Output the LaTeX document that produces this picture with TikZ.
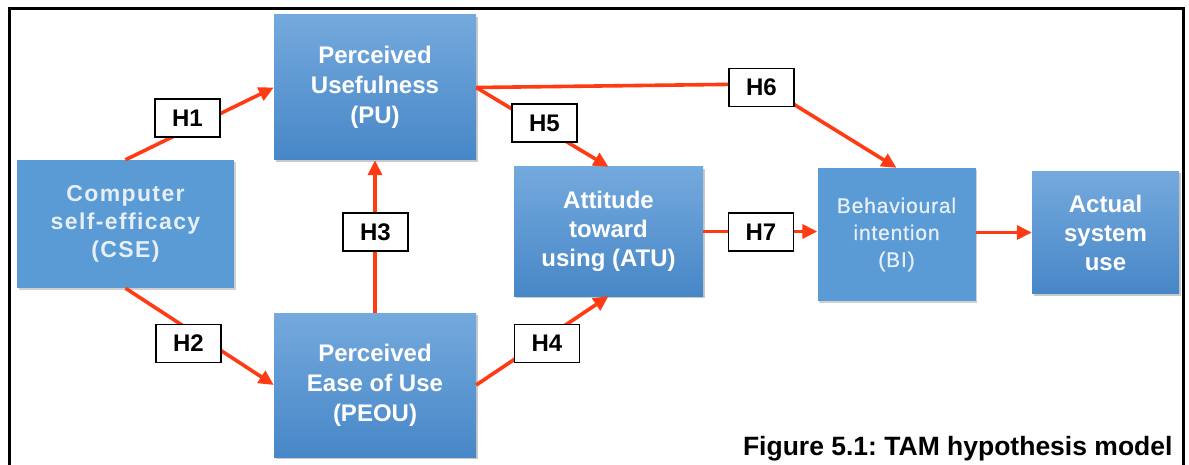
\documentclass[tikz,border=0pt]{standalone}
\usepackage{fontspec}
\setmainfont{Liberation Sans}
\newfontfamily\spacedbold[LetterSpace=6]{Liberation Sans}
\newfontfamily\spacedreg[LetterSpace=4,FakeBold=0.8]{Liberation Sans}
\usetikzlibrary{arrows.meta,shadows}
\definecolor{boxtop}{HTML}{74A9DD}
\definecolor{boxbot}{HTML}{4787C7}
\definecolor{boxflat}{HTML}{5B9BD5}
\definecolor{arrowred}{HTML}{FF3B14}
\definecolor{dimwhite}{HTML}{E6EEF8}
\frenchspacing
\tikzset{
  gbox/.style={rectangle, top color=boxtop, bottom color=boxbot, draw=none, text=white,
    font=\bfseries\fontsize{24}{30}\selectfont, align=center, inner sep=0pt,
    drop shadow={shadow xshift=1.5pt, shadow yshift=-2pt, opacity=0.35, fill=black!60}},
  fbox/.style={rectangle, fill=boxflat, draw=none, text=dimwhite, align=center, inner sep=0pt,
    drop shadow={shadow xshift=1.5pt, shadow yshift=-2pt, opacity=0.3, fill=black!60}},
  hyp/.style={rectangle, draw=black, line width=1.3pt, fill=white, text=black,
    font=\bfseries\fontsize{24}{28}\selectfont, minimum width=65pt, minimum height=38pt, inner sep=0pt},
  conn/.style={draw=arrowred, line width=3.6pt},
  arr/.style={conn, -{Triangle[length=15pt,width=14pt]}},
  frame/.style={draw=black, line width=3pt}
}
\begin{document}
\begin{tikzpicture}[x=1pt,y=-1pt]
\useasboundingbox (0,0) rectangle (1189,465);
\fill[white] (0,0) rectangle (1189,465);
\draw[frame] (9,475) -- (9,9) -- (1183,9) -- (1183,475);

% boxes
\node[gbox, minimum width=202pt, minimum height=145pt] (pu) at (375,87.5) {Perceived\\Usefulness\\(PU)};
\node[fbox, minimum width=217pt, minimum height=128pt, font=\spacedbold\bfseries\fontsize{23}{28}\selectfont] (cse) at (125.5,224) {Computer\\self-efficacy\\(CSE)};
\node[gbox, minimum width=202pt, minimum height=144pt] (peou) at (375,385) {Perceived\\Ease of Use\\(PEOU)};
\node[gbox, minimum width=189pt, minimum height=129pt, font=\bfseries\fontsize{24}{29}\selectfont] (atu) at (608.5,231.5) {Attitude\\toward\\using (ATU)};
\node[fbox, minimum width=158pt, minimum height=133pt, font=\spacedreg\fontsize{21}{27}\selectfont] (bi) at (896.5,234.5) {Behavioural\\intention\\(BI)};
\node[gbox, minimum width=147pt, minimum height=122pt, font=\bfseries\fontsize{24}{29}\selectfont] (act) at (1105.5,232.5) {Actual\\system\\use};

% connectors
\draw[arr] (cse.north) -- (pu.west);
\draw[arr] (cse.south) -- (peou.west);
\draw[arr] (peou.north) -- (pu.south);
\draw[arr] (peou.east) -- (atu.south);
\draw[arr] (pu.east) -- (atu.north);
\coordinate (h6c) at (761,84);
\draw[arr] (pu.east) -- (h6c) -- (bi.north);
\draw[arr] (atu.east) -- (atu.east -| bi.west);
\draw[arr] (bi.east |- act.west) -- (act.west);

% labels
\node[hyp] (h1) at (187.5,118) {H1};
\node[hyp] (h2) at (188.5,343.5) {H2};
\node[hyp] (h3) at (375.5,232) {H3};
\node[hyp] (h4) at (547,343.5) {H4};
\node[hyp] (h5) at (544.5,123) {H5};
\node[hyp] (h6) at (761.5,87.5) {H6};
\node[hyp] (h7) at (761,232) {H7};

\node[anchor=base east, font=\bfseries\fontsize{26.5}{30}\selectfont] (cap) at (1176,455) {Figure 5.1: TAM hypothesis model};
\end{tikzpicture}
\end{document}
